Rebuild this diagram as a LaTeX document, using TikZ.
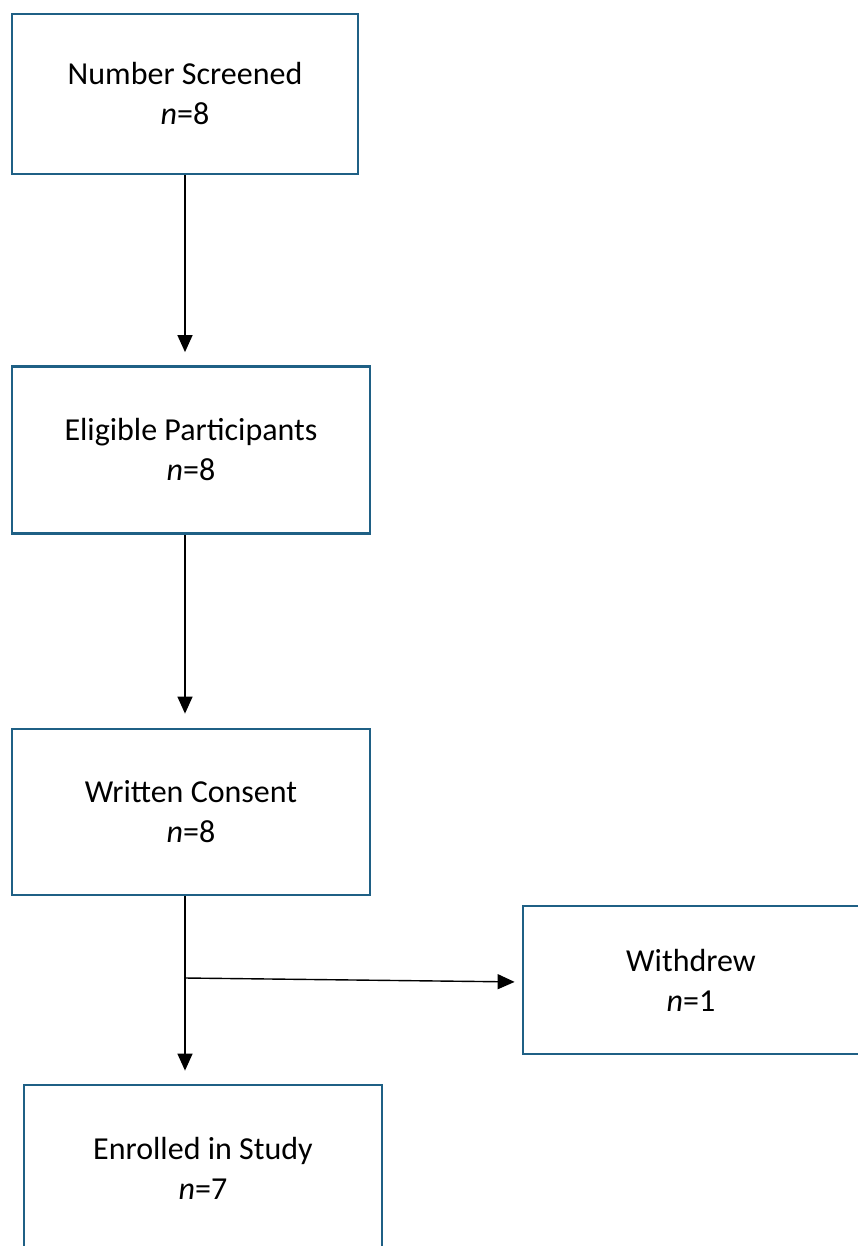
\documentclass[tikz,border=0pt]{standalone}
\usepackage{fontspec}
\setmainfont{Carlito}
\usepackage{tikz}
\usetikzlibrary{arrows.meta,positioning}
\definecolor{boxblue}{RGB}{31,96,133}

\begin{document}
\begin{tikzpicture}[x=1pt,y=-1pt,
	stage/.style={draw=boxblue, line width=2.8pt, align=center, inner sep=0pt,
		font=\fontsize{32}{40}\selectfont},
	flow/.style={-{Triangle[length=17pt,width=15pt]}, line width=1.4pt}]
\useasboundingbox (0,0) rectangle (857,1246);
\node[stage, minimum width=346pt, minimum height=160pt] (scr) at (185,94) {Number Screened\\\textit{n}=8};
\node[stage, minimum width=358pt, minimum height=167pt] (elig) at (191,450) {Eligible Participants\\\textit{n}=8};
\node[stage, minimum width=358pt, minimum height=166pt] (cons) at (191,812) {Written Consent\\\textit{n}=8};
\node[stage, minimum width=336pt, minimum height=148pt] (wdr) at (691,980) {Withdrew\\\textit{n}=1};
\node[stage, minimum width=358pt, minimum height=166pt] (enr) at (203,1168) {Enrolled in Study\\\textit{n}=7};
\coordinate (split) at (185,978);
\path[flow]
(scr.south) edge [shorten >=13pt] (scr.south |- elig.north)
(elig.south -| scr.south) edge [shorten >=14pt] (scr.south |- cons.north)
(cons.south -| scr.south) edge [shorten >=13pt] (scr.south |- enr.north)
(split) edge [shorten >=7pt] ([yshift=-2pt]wdr.west)
;
\end{tikzpicture}
\end{document}
